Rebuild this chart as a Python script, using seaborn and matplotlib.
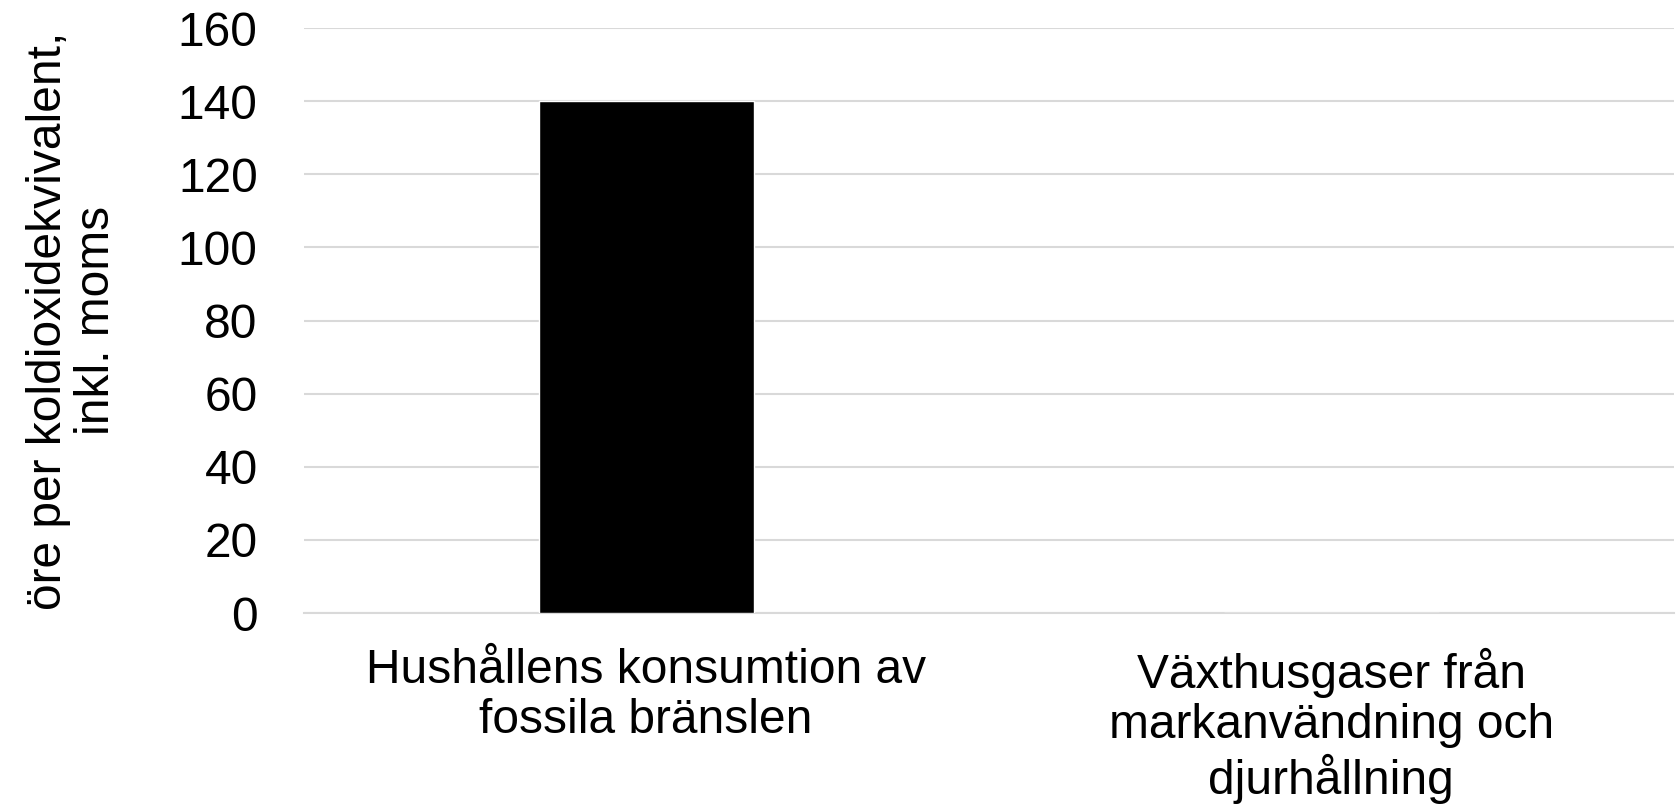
import matplotlib
matplotlib.use("Agg")
import pandas as pd
import matplotlib.pyplot as plt
import seaborn as sns

# data
categories = ["Hushållens konsumtion av\nfossila bränslen",
              "Växthusgaser från\nmarkanvändning och\ndjurhållning"]
values = [140, 0]
yticks = [0, 20, 40, 60, 80, 100, 120, 140, 160]

df = pd.DataFrame({"kategori": categories, "ore": values})

sns.set_style("white")
plt.rcParams['font.family'] = ['Liberation Sans', 'DejaVu Sans']
plt.rcParams['text.color'] = 'black'
plt.rcParams['axes.labelcolor'] = 'black'
plt.rcParams['xtick.color'] = 'black'
plt.rcParams['ytick.color'] = 'black'

fs = 34.5

fig = plt.figure(figsize=(16.77, 8.05), dpi=100)
ax = fig.add_axes([0.181, 0.2385, 0.817, 0.7265])

sns.barplot(data=df, x="kategori", y="ore", color="black", width=0.314,
            saturation=1, ax=ax, zorder=3)

ax.set_ylim(0, 160)
ax.set_yticks(yticks)
ax.set_yticklabels([str(v) for v in yticks], fontsize=fs)
ax.tick_params(axis='x', labelsize=fs, length=0, pad=25)
ax.tick_params(axis='y', length=0, pad=33)
for lbl in ax.get_xticklabels():
    lbl.set_linespacing(1.15)
ax.set_xlim(-0.5, 1.5)

ax.grid(axis='y', color='#d9d9d9', linewidth=1.5, zorder=0)
for s in ['top', 'right', 'left']:
    ax.spines[s].set_visible(False)
ax.spines['bottom'].set_color('#d9d9d9')
ax.spines['bottom'].set_linewidth(1.5)

ax.set_xlabel("")
ax.set_ylabel("öre per koldioxidekvivalent,\ninkl. moms", fontsize=fs, labelpad=42,
              linespacing=1.1)

fig.savefig("out.png", dpi=100)
